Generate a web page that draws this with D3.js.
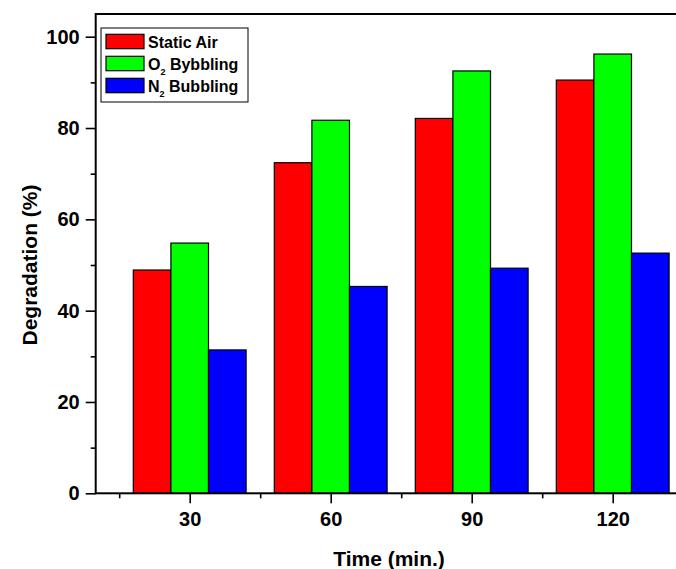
<!DOCTYPE html>
<html>
<head>
<meta charset="utf-8">
<script src="https://cdn.jsdelivr.net/npm/d3@7"></script>
<style>
  html, body { margin: 0; padding: 0; background: #fff; }
  svg { display: block; font-family: "Liberation Sans", Arial, sans-serif; }
</style>
</head>
<body>
<div id="chart"></div>
<script>
// data
const times = [30, 60, 90, 120]
const minorTimes = [15, 45, 75, 105, 135]
const series = [
  { key: "Static Air", gas: null, color: "#ff0000" },
  { key: "Bybbling", gas: "O", color: "#00ff00" },
  { key: "Bubbling", gas: "N", color: "#0000ff" }
]
const staticAir = [48.9, 72.4, 82.1, 90.5]
const o2Bubbling = [54.8, 81.7, 92.5, 96.2]
const n2Bubbling = [31.4, 45.3, 49.3, 52.6]
const yTicks = [0, 20, 40, 60, 80, 100]
const yMinor = [10, 30, 50, 70, 90]

const values = [staticAir, o2Bubbling, n2Bubbling]

const width = 676
const height = 569
const plotLeft = 95.7, plotTop = 14, plotBottom = 493.3

const svg = d3.select("#chart").append("svg")
  .attr("width", width)
  .attr("height", height)

const x = d3.scaleLinear().domain([10, 140]).range([plotLeft, plotLeft + 130 * 4.7])
const y = d3.scaleLinear().domain([0, 100]).range([plotBottom, 36.7])
const barW = 8 // in minutes

// bars
series.forEach((s, i) => {
  svg.append("g")
    .selectAll("rect")
    .data(times.map((t, j) => ({ t, v: values[i][j] })))
    .join("rect")
    .attr("x", d => x(d.t - 12 + i * barW))
    .attr("width", d => x(d.t - 12 + (i + 1) * barW) - x(d.t - 12 + i * barW))
    .attr("y", d => y(d.v))
    .attr("height", d => y(0) - y(d.v))
    .attr("fill", s.color)
    .attr("stroke", "#000")
    .attr("stroke-width", 1.2)
})

// frame
svg.append("rect")
  .attr("x", plotLeft)
  .attr("y", plotTop)
  .attr("width", x(140) - plotLeft)
  .attr("height", plotBottom - plotTop)
  .attr("fill", "none")
  .attr("stroke", "#000")
  .attr("stroke-width", 2)

// axes
const xAxis = svg.append("g")
  .attr("transform", `translate(0,${plotBottom})`)
  .call(d3.axisBottom(x).tickValues(times).tickSize(10).tickPadding(9).tickSizeOuter(0))
xAxis.select(".domain").remove()
xAxis.selectAll("line").attr("stroke-width", 1.6)
xAxis.selectAll("text").attr("font-size", 20).attr("font-weight", "bold")
  .attr("font-family", "Liberation Sans, Arial, sans-serif").attr("fill", "#000")

const xMinor = svg.append("g")
  .attr("transform", `translate(0,${plotBottom})`)
  .call(d3.axisBottom(x).tickValues(minorTimes).tickSize(5).tickFormat(""))
xMinor.select(".domain").remove()
xMinor.selectAll("line").attr("stroke-width", 1.6)

const yAxis = svg.append("g")
  .attr("transform", `translate(${plotLeft},0)`)
  .call(d3.axisLeft(y).tickValues(yTicks).tickSize(10).tickPadding(6).tickSizeOuter(0))
yAxis.select(".domain").remove()
yAxis.selectAll("line").attr("stroke-width", 1.6)
yAxis.selectAll("text").attr("font-size", 20).attr("font-weight", "bold")
  .attr("font-family", "Liberation Sans, Arial, sans-serif").attr("fill", "#000")

const yMinorAxis = svg.append("g")
  .attr("transform", `translate(${plotLeft},0)`)
  .call(d3.axisLeft(y).tickValues(yMinor).tickSize(5).tickFormat(""))
yMinorAxis.select(".domain").remove()
yMinorAxis.selectAll("line").attr("stroke-width", 1.6)

// axis titles
svg.append("text")
  .attr("x", 389)
  .attr("y", 566)
  .attr("text-anchor", "middle")
  .attr("font-size", 21)
  .attr("font-weight", "bold")
  .text("Time (min.)")

svg.append("text")
  .attr("transform", "translate(37,265) rotate(-90)")
  .attr("text-anchor", "middle")
  .attr("font-size", 21)
  .attr("font-weight", "bold")
  .text("Degradation (%)")

// legend
const legend = svg.append("g").attr("transform", "translate(101,28)")
legend.append("rect")
  .attr("width", 147)
  .attr("height", 74)
  .attr("fill", "#fff")
  .attr("stroke", "#000")
  .attr("stroke-width", 1)

series.forEach((s, i) => {
  const row = legend.append("g").attr("transform", `translate(0,${6.3 + i * 22})`)
  row.append("rect")
    .attr("x", 5)
    .attr("width", 38)
    .attr("height", 14.4)
    .attr("fill", s.color)
    .attr("stroke", "#000")
    .attr("stroke-width", 1.2)
  const t = row.append("text")
    .attr("x", 47)
    .attr("y", 14)
    .attr("font-size", 16)
    .attr("font-weight", "bold")
  if (s.gas) {
    t.append("tspan").text(s.gas)
    t.append("tspan").attr("font-size", 9).attr("dy", 5).text("2")
    t.append("tspan").attr("dy", -5).text(" " + s.key)
  } else {
    t.text(s.key)
  }
})
</script>
</body>
</html>
